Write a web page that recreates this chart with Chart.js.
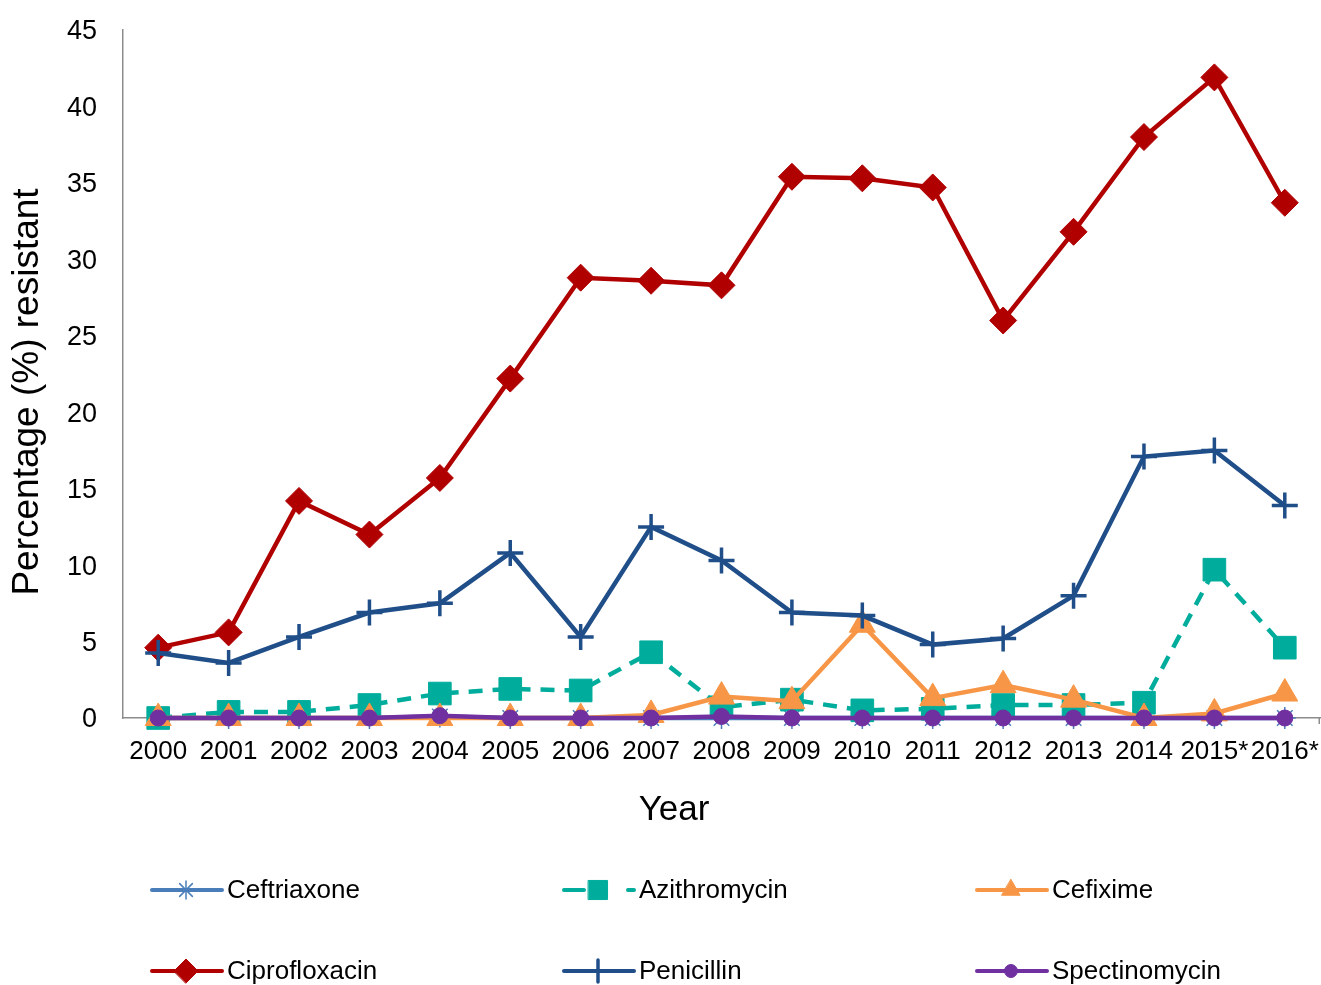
<!DOCTYPE html>
<html>
<head>
<meta charset="utf-8">
<script src="https://cdn.jsdelivr.net/npm/chart.js@4.4.0/dist/chart.umd.min.js"></script>
<style>
  html, body { margin: 0; padding: 0; background: #ffffff; }
  canvas { display: block; }
</style>
</head>
<body>
<canvas id="chart" width="1321" height="985"></canvas>
<script>
// Years of surveillance (last two provisional)
const years = ['2000','2001','2002','2003','2004','2005','2006','2007','2008','2009','2010','2011','2012','2013','2014','2015*','2016*'];

// Percentage of isolates resistant, per antimicrobial
const ceftriaxone   = [0, 0, 0, 0, 0.1, 0, 0, 0, 0, 0, 0, 0, 0, 0, 0, 0, 0];
const azithromycin  = [0, 0.4, 0.4, 0.85, 1.6, 1.9, 1.8, 4.3, 0.7, 1.2, 0.5, 0.6, 0.85, 0.85, 1.0, 9.7, 4.6];
const cefixime      = [0, 0, 0, 0, 0, 0, 0, 0.2, 1.4, 1.1, 6.1, 1.3, 2.15, 1.2, 0, 0.3, 1.6];
const ciprofloxacin = [4.6, 5.6, 14.2, 12.0, 15.7, 22.2, 28.8, 28.6, 28.3, 35.4, 35.3, 34.7, 26.0, 31.8, 38.0, 41.9, 33.7];
const penicillin    = [4.25, 3.6, 5.3, 6.9, 7.5, 10.8, 5.3, 12.5, 10.3, 6.9, 6.7, 4.8, 5.2, 8.0, 17.1, 17.5, 13.9];
const spectinomycin = [0, 0, 0, 0, 0.15, 0, 0, 0, 0.1, 0, 0, 0, 0, 0, 0, 0, 0];

// Y axis range
const yMin = 0, yMax = 45, yStep = 5;

const FONT = '"Liberation Sans", Arial, Helvetica, sans-serif';

// Legend laid out as a 3-column grid under the chart
const legendPlugin = {
  id: 'gridLegend',
  afterDraw(chart) {
    const ctx = chart.ctx;
    const cols = [150, 562, 975];
    const rows = [890, 971];
    const lineLen = 72;
    chart.data.datasets.forEach((ds, i) => {
      const x0 = cols[i % 3];
      const y = rows[Math.floor(i / 3)];
      ctx.save();
      ctx.strokeStyle = ds.borderColor;
      ctx.lineWidth = 4;
      ctx.lineCap = 'round';
      if (ds.legendDash) ctx.setLineDash(ds.legendDash);
      ctx.beginPath();
      ctx.moveTo(x0 + 2, y);
      ctx.lineTo(x0 + lineLen, y);
      ctx.stroke();
      ctx.setLineDash([]);
      ctx.fillStyle = ds.pointBackgroundColor;
      ctx.strokeStyle = ds.pointBorderColor;
      ctx.lineWidth = ds.pointBorderWidth || 1;
      Chart.helpers.drawPoint(ctx, {
        pointStyle: ds.pointStyle,
        radius: ds.legendRadius,
        borderWidth: ds.pointBorderWidth || 1,
        rotation: 0
      }, x0 + 36, y);
      ctx.fillStyle = '#000000';
      ctx.font = '26px ' + FONT;
      ctx.textBaseline = 'middle';
      ctx.textAlign = 'left';
      ctx.fillText(ds.label, x0 + 77, y + 1);
      ctx.restore();
    });
  }
};

// Axis titles and the closing tick at the right end of the x axis
const axisExtrasPlugin = {
  id: 'axisExtras',
  afterDraw(chart) {
    const ctx = chart.ctx;
    const area = chart.chartArea;
    ctx.save();
    ctx.strokeStyle = '#8c8c8c';
    ctx.lineWidth = 1.5;
    ctx.beginPath();
    ctx.moveTo(area.right - 0.75, area.bottom);
    ctx.lineTo(area.right - 0.75, area.bottom + 6);
    ctx.stroke();

    ctx.fillStyle = '#000000';
    ctx.textAlign = 'center';
    ctx.textBaseline = 'middle';
    ctx.font = '35px ' + FONT;
    ctx.fillText('Year', 674, 810);

    ctx.translate(28, 392);
    ctx.rotate(-Math.PI / 2);
    ctx.font = '37px ' + FONT;
    ctx.fillText('Percentage (%) resistant', 0, 0);
    ctx.restore();
  }
};

function series(label, data, color, style, opts) {
  return Object.assign({
    label: label,
    data: data,
    borderColor: color,
    backgroundColor: color,
    pointBackgroundColor: color,
    pointBorderColor: color,
    borderWidth: 4.5,
    pointStyle: style,
    pointRadius: 10,
    pointHoverRadius: 10,
    pointBorderWidth: 1,
    tension: 0,
    fill: false,
    clip: false
  }, opts || {});
}

const datasets = [
  series('Ceftriaxone', ceftriaxone, '#4a7ebb', 'star',
    { pointRadius: 11, pointBorderWidth: 1.5, legendRadius: 9, pointBackgroundColor: 'rgba(0,0,0,0)', order: 6 }),
  series('Azithromycin', azithromycin, '#00ad9c', 'rect',
    { borderDash: [14, 10], legendDash: [20, 44, 10, 100], pointRadius: 16, legendRadius: 13.5, order: 5 }),
  series('Cefixime', cefixime, '#f79646', 'triangle',
    { pointRadius: 15, legendRadius: 10.5, order: 4 }),
  series('Ciprofloxacin', ciprofloxacin, '#b00000', 'rectRot',
    { pointRadius: 13.5, legendRadius: 12, order: 3 }),
  series('Penicillin', penicillin, '#1f4e89', 'cross',
    { pointRadius: 13, pointBorderWidth: 3.5, legendRadius: 11, order: 2 }),
  series('Spectinomycin', spectinomycin, '#7030a0', 'circle',
    { pointRadius: 8, legendRadius: 6.5, order: 1 })
];

new Chart(document.getElementById('chart'), {
  type: 'line',
  data: { labels: years, datasets: datasets },
  options: {
    responsive: false,
    animation: false,
    devicePixelRatio: 1,
    layout: { autoPadding: false, padding: { left: 0, right: 1, top: 30, bottom: 147 } },
    plugins: {
      legend: { display: false },
      tooltip: { enabled: false }
    },
    scales: {
      x: {
        type: 'category',
        offset: true,
        grid: { display: false, drawTicks: false },
        border: { display: true, color: '#8c8c8c', width: 1.5 },
        ticks: {
          color: '#000000',
          font: { family: FONT, size: 26 },
          padding: 18,
          autoSkip: false,
          maxRotation: 0,
          minRotation: 0
        },
        title: { display: false, text: 'Year' },
        afterFit(scale) {
          scale.height = 120;
          scale.paddingLeft = 0;
          scale.paddingRight = 0;
        }
      },
      y: {
        min: yMin,
        max: yMax,
        grid: { display: false, drawTicks: false },
        border: { display: true, color: '#8c8c8c', width: 1.5 },
        ticks: {
          stepSize: yStep,
          color: '#000000',
          font: { family: FONT, size: 27 },
          padding: 26,
          labelOffset: 2
        },
        afterFit(scale) {
          scale.width = 123;
          scale.paddingTop = 0;
          scale.paddingBottom = 0;
        }
      }
    }
  },
  plugins: [legendPlugin, axisExtrasPlugin]
});
</script>
</body>
</html>
